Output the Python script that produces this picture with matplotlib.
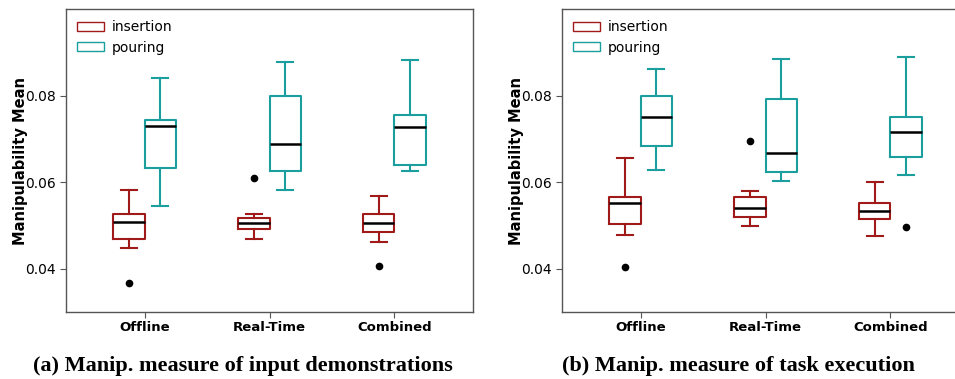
import matplotlib
matplotlib.use("Agg")
import matplotlib.pyplot as plt
from matplotlib.patches import Patch

# categories / groups
conditions = ["Offline", "Real-Time", "Combined"]
tasks = ["insertion", "pouring"]

# (a) input demonstrations: whislo, q1, med, q3, whishi per condition
demo_insertion_lo = [0.0448, 0.0469, 0.0462]
demo_insertion_q1 = [0.0469, 0.0491, 0.0485]
demo_insertion_med = [0.0507, 0.0506, 0.0505]
demo_insertion_q3 = [0.0527, 0.0517, 0.0526]
demo_insertion_hi = [0.0583, 0.0526, 0.0569]
demo_insertion_fliers = [[0.0368], [0.0610], [0.0406]]

demo_pouring_lo = [0.0546, 0.0581, 0.0625]
demo_pouring_q1 = [0.0634, 0.0627, 0.0641]
demo_pouring_med = [0.0731, 0.0689, 0.0728]
demo_pouring_q3 = [0.0743, 0.0800, 0.0755]
demo_pouring_hi = [0.0842, 0.0877, 0.0882]
demo_pouring_fliers = [[], [], []]

# (b) task execution
exec_insertion_lo = [0.0478, 0.0499, 0.0476]
exec_insertion_q1 = [0.0504, 0.0519, 0.0516]
exec_insertion_med = [0.0551, 0.0541, 0.0533]
exec_insertion_q3 = [0.0567, 0.0566, 0.0553]
exec_insertion_hi = [0.0657, 0.0579, 0.0600]
exec_insertion_fliers = [[0.0405], [0.0695], []]

exec_pouring_lo = [0.0628, 0.0602, 0.0616]
exec_pouring_q1 = [0.0684, 0.0624, 0.0658]
exec_pouring_med = [0.0750, 0.0668, 0.0717]
exec_pouring_q3 = [0.0799, 0.0792, 0.0751]
exec_pouring_hi = [0.0863, 0.0884, 0.0890]
exec_pouring_fliers = [[], [], [0.0496]]

captions = ["(a) Manip. measure of input demonstrations",
            "(b) Manip. measure of task execution"]

RED = "#a01a1a"
TEAL = "#1a9e9e"


def make_stats(lo, q1, med, q3, hi, fliers):
    return [dict(whislo=lo[i], q1=q1[i], med=med[i], q3=q3[i], whishi=hi[i],
                 fliers=fliers[i]) for i in range(len(lo))]


def draw_group(ax, stats, offset, color):
    pos = [i + offset for i in range(len(stats))]
    ax.bxp(stats, positions=pos, widths=0.25, showfliers=True,
           boxprops=dict(color=color, linewidth=1.5),
           whiskerprops=dict(color=color, linewidth=1.5),
           capprops=dict(color=color, linewidth=1.5),
           medianprops=dict(color="black", linewidth=1.8),
           flierprops=dict(marker="o", markerfacecolor="black",
                           markeredgecolor="black", markersize=4.5),
           manage_ticks=False)


def style_axes(ax):
    ax.set_xlim(-0.63, 2.63)
    ax.set_ylim(0.03, 0.1)
    ax.set_yticks([0.04, 0.06, 0.08])
    ax.set_xticks(range(len(conditions)))
    ax.set_xticklabels(conditions, fontweight="bold", fontsize=9.5)
    ax.tick_params(axis="y", labelsize=10, length=4, color="#555555")
    ax.tick_params(axis="x", length=4, pad=2.5, color="#555555")
    for s in ax.spines.values():
        s.set_color("#555555")
        s.set_linewidth(1.0)
    ax.set_ylabel("Manipulability Mean", fontweight="bold", fontsize=10.5, labelpad=-2)
    handles = [Patch(facecolor="white", edgecolor=RED, linewidth=1.0, label=tasks[0]),
               Patch(facecolor="white", edgecolor=TEAL, linewidth=1.0, label=tasks[1])]
    ax.legend(handles=handles, loc="upper left", frameon=False, fontsize=10,
              handlelength=1.9, handleheight=0.65, handletextpad=0.6,
              labelspacing=0.45, borderaxespad=0.4)


fig = plt.figure(figsize=(9.55, 3.79), dpi=100)
ax1 = fig.add_axes([66 / 955, 1 - 312 / 379, 407 / 955, 302.7 / 379])
ax2 = fig.add_axes([562 / 955, 1 - 312 / 379, 407 / 955, 302.7 / 379])

draw_group(ax1, make_stats(demo_insertion_lo, demo_insertion_q1, demo_insertion_med,
                           demo_insertion_q3, demo_insertion_hi, demo_insertion_fliers), -0.125, RED)
draw_group(ax1, make_stats(demo_pouring_lo, demo_pouring_q1, demo_pouring_med,
                           demo_pouring_q3, demo_pouring_hi, demo_pouring_fliers), 0.125, TEAL)
draw_group(ax2, make_stats(exec_insertion_lo, exec_insertion_q1, exec_insertion_med,
                           exec_insertion_q3, exec_insertion_hi, exec_insertion_fliers), -0.125, RED)
draw_group(ax2, make_stats(exec_pouring_lo, exec_pouring_q1, exec_pouring_med,
                           exec_pouring_q3, exec_pouring_hi, exec_pouring_fliers), 0.125, TEAL)

style_axes(ax1)
style_axes(ax2)

fig.text(242.5 / 955, 1 - 371 / 379, captions[0], ha="center", va="baseline",
         fontsize=16, fontweight="bold", family="Liberation Serif")
fig.text(738.5 / 955, 1 - 371 / 379, captions[1], ha="center", va="baseline",
         fontsize=16, fontweight="bold", family="Liberation Serif")

fig.savefig("out.png", dpi=100)
